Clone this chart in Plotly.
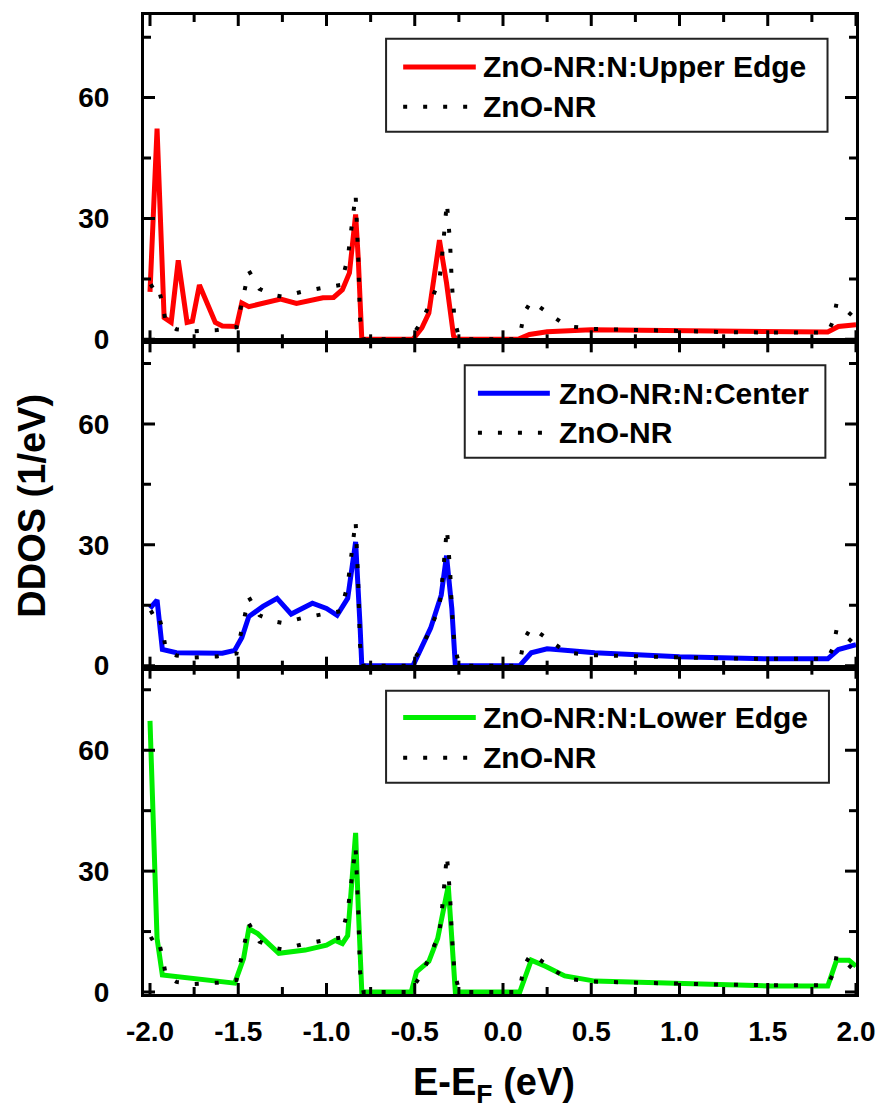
import plotly.graph_objects as go
from plotly.subplots import make_subplots

# ---------------- data ----------------
ref_x = [-2.0, -1.96, -1.93, -1.91, -1.85, -1.75, -1.62, -1.51, -1.47, -1.44, -1.38, -1.30,
         -1.25, -1.14, -1.03, -0.92, -0.88, -0.835, -0.82, -0.81, -0.79, -0.52, -0.49, -0.46,
         -0.41, -0.36, -0.34, -0.318, -0.30, -0.29, -0.275, -0.25, -0.22, 0.08, 0.10, 0.12,
         0.16, 0.24, 0.36, 0.5, 0.75, 1.0, 1.25, 1.5, 1.75, 1.84, 1.87, 1.89, 1.95, 2.0]
ref_y = [13, 14, 9, 4, 2.5, 2, 2.3, 3, 11, 17, 12.5, 11,
         10.6, 11.8, 12.7, 13.5, 20, 36, 20, 5, 0, 0, 2.5, 4.5,
         9.3, 14.7, 23, 34, 24, 14, 5, 0.5, 0, 0, 2, 6.6,
         9.5, 7, 3.3, 2.6, 2.3, 2.0, 1.8, 1.7, 1.6, 1.7, 4.5, 9, 7, 5]

upper_x = [-2.0, -1.96, -1.92, -1.88, -1.84, -1.79, -1.76, -1.72, -1.63, -1.59, -1.51, -1.48,
           -1.44, -1.34, -1.26, -1.17, -1.02, -0.96, -0.91, -0.87, -0.835, -0.82, -0.80, -0.51,
           -0.46, -0.42, -0.36, -0.32, -0.28, -0.26, 0.085, 0.15, 0.25, 0.5, 1.0, 1.5, 1.84,
           1.9, 2.0]
upper_y = [11.8, 52.3, 5.4, 4.2, 19.6, 4.2, 4.5, 13.5, 4.2, 3.3, 3.2, 9,
           8.1, 9.3, 10, 8.9, 10.3, 10.4, 12.3, 16.5, 31, 20, 0, 0,
           2.8, 6.5, 24.6, 14, 0.8, 0, 0, 1.2, 1.9, 2.4, 2.1, 1.8, 1.8,
           3.2, 3.6]

center_x = [-2.0, -1.96, -1.93, -1.85, -1.59, -1.52, -1.48, -1.44, -1.36, -1.28, -1.2, -1.08,
            -1.0, -0.94, -0.88, -0.835, -0.81, -0.80, -0.51, -0.46, -0.41, -0.35, -0.32, -0.29,
            -0.27, 0.095, 0.16, 0.25, 0.52, 1.0, 1.51, 1.84, 1.9, 2.0]
center_y = [14.2, 16.3, 4, 3.2, 3.1, 3.8, 6.9, 12.2, 14.7, 16.7, 12.8, 15.5,
            14.2, 12.5, 16.7, 30.7, 10, 0, 0, 4.8, 9.3, 17.5, 27.3, 14.2,
            0, 0, 3.2, 4.2, 3.2, 2.2, 1.7, 1.7, 4, 5.2]

lower_x = [-2.0, -1.96, -1.93, -1.85, -1.7, -1.52, -1.47, -1.44, -1.39, -1.27, -1.12, -1.0,
           -0.95, -0.91, -0.88, -0.835, -0.82, -0.80, -0.52, -0.49, -0.42, -0.37, -0.31, -0.28,
           -0.27, 0.095, 0.16, 0.24, 0.35, 0.52, 1.0, 1.51, 1.84, 1.89, 1.96, 2.0]
lower_y = [67.3, 13.3, 4.2, 3.8, 3.0, 2.2, 8.3, 15.7, 14.5, 9.6, 10.4, 11.6,
           12.8, 12, 14, 39.5, 21, 0, 0, 5, 7.6, 13.3, 26.3, 7.6,
           0, 0, 7.9, 6.4, 4, 2.7, 2.2, 1.5, 1.5, 7.9, 7.9, 6.4]

series_names = ["ZnO-NR:N:Upper Edge", "ZnO-NR:N:Center", "ZnO-NR:N:Lower Edge"]
ref_name = "ZnO-NR"
series_colors = ["#FF0000", "#0000FF", "#00EE00"]

# tick positions every 0.25 (x) / 15 (y); only the major ones carry labels
x_tick_vals = [-2.0, -1.75, -1.5, -1.25, -1.0, -0.75, -0.5, -0.25, 0.0,
               0.25, 0.5, 0.75, 1.0, 1.25, 1.5, 1.75, 2.0]
x_tick_text = ["-2.0", "", "-1.5", "", "-1.0", "", "-0.5", "", "0.0",
               "", "0.5", "", "1.0", "", "1.5", "", "2.0"]
y_tick_vals = [0, 15, 30, 45, 60, 75]
y_tick_text = ["0", "", "30", "", "60", ""]

x_title = "E-E<sub>F</sub> (eV)"
y_title = "DDOS (1/eV)"

# ---------------- figure ----------------
FONT = "Liberation Sans, Arial, sans-serif"
MAJOR_LEN, MINOR_LEN = 11, 7
fig = make_subplots(rows=3, cols=1, shared_xaxes=True, vertical_spacing=0)

data_sets = [(upper_x, upper_y), (center_x, center_y), (lower_x, lower_y)]
for i, (xs, ys) in enumerate(data_sets):
    fig.add_trace(go.Scatter(x=xs, y=ys, mode="lines", name=series_names[i],
                             line=dict(color=series_colors[i], width=5),
                             showlegend=False), row=i + 1, col=1)
    fig.add_trace(go.Scatter(x=ref_x, y=ref_y, mode="lines", name=ref_name,
                             line=dict(color="black", width=4, dash="4px,16px"),
                             showlegend=False), row=i + 1, col=1)

axis_common = dict(showline=True, linewidth=3, linecolor="black", mirror=True,
                   ticks="", showgrid=False, zeroline=False,
                   tickfont=dict(family=FONT, size=28, color="black", weight="bold"))

for r in range(1, 4):
    fig.update_xaxes(row=r, col=1, range=[-2.034, 2.0], tickmode="array",
                     tickvals=x_tick_vals, ticktext=x_tick_text,
                     ticklabelstandoff=10, **axis_common)
    fig.update_yaxes(row=r, col=1, range=[-0.5, 80.5], tickmode="array",
                     tickvals=y_tick_vals, ticktext=y_tick_text,
                     ticklabelstandoff=26, **axis_common)

axis_ids = ["", "2", "3"]
tick_line = dict(color="black", width=3)

# ---------------- inward tick marks on all four sides (placed by the axis scales) ----------------
for i in range(3):
    xd, yd = f"x{axis_ids[i]}", f"y{axis_ids[i]}"
    for v, t in zip(x_tick_vals, x_tick_text):
        L = MAJOR_LEN if t else MINOR_LEN
        for anchor, sgn in ((0, 1), (1, -1)):
            fig.add_shape(type="line", xref=xd, yref=f"{yd} domain", x0=v, x1=v,
                          ysizemode="pixel", yanchor=anchor, y0=0, y1=sgn * L,
                          line=tick_line, layer="above")
    for v, t in zip(y_tick_vals, y_tick_text):
        L = MAJOR_LEN if t else MINOR_LEN
        for anchor, sgn in ((0, 1), (1, -1)):
            fig.add_shape(type="line", xref=f"{xd} domain", yref=yd, y0=v, y1=v,
                          xsizemode="pixel", xanchor=anchor, x0=0, x1=sgn * L,
                          line=tick_line, layer="above")

# ---------------- legends (boxes drawn in axis-domain coordinates) ----------------
legend_boxes = [
    dict(x0=0.340, x1=0.960, y0=0.642, y1=0.927, s0=0.364, s1=0.466, tx=0.473, r1=0.841, r2=0.719),
    dict(x0=0.4505, x1=0.957, y0=0.643, y1=0.927, s0=0.469, s1=0.570, tx=0.580, r1=0.841, r2=0.720),
    dict(x0=0.340, x1=0.962, y0=0.647, y1=0.929, s0=0.364, s1=0.466, tx=0.473, r1=0.847, r2=0.724),
]
for i, lb in enumerate(legend_boxes):
    xr = f"x{axis_ids[i]} domain"
    yr = f"y{axis_ids[i]} domain"
    fig.add_shape(type="rect", xref=xr, yref=yr, x0=lb["x0"], x1=lb["x1"], y0=lb["y0"], y1=lb["y1"],
                  line=dict(color="#222222", width=2), fillcolor="white", layer="above")
    fig.add_shape(type="line", xref=xr, yref=yr, x0=lb["s0"], x1=lb["s1"], y0=lb["r1"], y1=lb["r1"],
                  line=dict(color=series_colors[i], width=5), layer="above")
    fig.add_shape(type="line", xref=xr, yref=yr, x0=lb["s0"], x1=lb["s1"], y0=lb["r2"], y1=lb["r2"],
                  line=dict(color="black", width=4, dash="4px,16px"), layer="above")
    fig.add_annotation(xref=xr, yref=yr, x=lb["tx"], y=lb["r1"], text=series_names[i],
                       showarrow=False, xanchor="left", yanchor="middle",
                       font=dict(family=FONT, size=30, color="black", weight="bold"))
    fig.add_annotation(xref=xr, yref=yr, x=lb["tx"], y=lb["r2"], text=ref_name,
                       showarrow=False, xanchor="left", yanchor="middle",
                       font=dict(family=FONT, size=30, color="black", weight="bold"))

# ---------------- axis titles ----------------
fig.add_annotation(xref="paper", yref="paper", x=-0.1576, y=0.4985, text=y_title,
                   textangle=-90, showarrow=False, xanchor="center", yanchor="middle",
                   font=dict(family=FONT, size=38, color="black", weight="bold"))
fig.add_annotation(xref="paper", yref="paper", x=0.491, y=-0.0928, text=x_title,
                   showarrow=False, xanchor="center", yanchor="middle",
                   font=dict(family=FONT, size=38, color="black", weight="bold"))

fig.update_layout(width=887, height=1115,
                  margin=dict(l=144, r=26, t=13, b=121),
                  paper_bgcolor="white", plot_bgcolor="white",
                  showlegend=False)

fig.write_html("out.html")
